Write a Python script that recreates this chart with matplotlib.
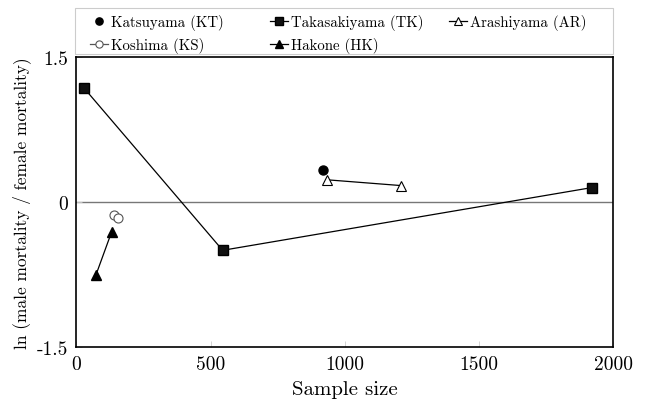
import matplotlib
matplotlib.use("Agg")
import matplotlib.pyplot as plt
from matplotlib.patches import Rectangle

# Data
kt_x = [919]
kt_y = [0.33]
tk_x = [28, 545, 1923]
tk_y = [1.18, -0.50, 0.15]
ar_x = [933, 1210]
ar_y = [0.23, 0.17]
ks_x = [141, 154]
ks_y = [-0.13, -0.17]
hk_x = [72, 131]
hk_y = [-0.76, -0.31]

x_ticks = [0, 500, 1000, 1500, 2000]
y_ticks = [-1.5, 0, 1.5]
y_ticklabels = ["-1.5", "0", "1.5"]

plt.rcParams['font.family'] = ['cmr10', 'DejaVu Serif']

W, H = 648, 406
fig = plt.figure(figsize=(6.48, 4.06), dpi=100)
ax = fig.add_axes([0.118, 0.143, 0.828, 0.714])

ax.axhline(0, color='#777777', lw=1.0, zorder=1)

l_kt, = ax.plot(kt_x, kt_y, ls='none', marker='o', ms=6.5, color='black', label='Katsuyama (KT)', zorder=3)
l_tk, = ax.plot(tk_x, tk_y, ls='-', lw=0.9, marker='s', ms=7.5, color='black', mfc='#111111', label='Takasakiyama (TK)', zorder=3)
l_ar, = ax.plot(ar_x, ar_y, ls='-', lw=0.9, marker='^', ms=6.5, color='black', mfc='white', mew=0.8, label='Arashiyama (AR)', zorder=3)
l_ks, = ax.plot(ks_x, ks_y, ls='-', lw=0.9, marker='o', ms=6.5, color='#555555', mfc='white', mew=0.8, label='Koshima (KS)', zorder=3)
l_hk, = ax.plot(hk_x, hk_y, ls='-', lw=0.9, marker='^', ms=6.5, color='black', label='Hakone (HK)', zorder=3)

ax.set_xlim(0, 2000)
ax.set_ylim(-1.5, 1.5)
ax.set_xticks(x_ticks)
ax.set_xticklabels([str(t) for t in x_ticks], fontsize=14)
ax.set_yticks(y_ticks)
ax.set_yticklabels(y_ticklabels, fontsize=14)
ax.tick_params(direction='in', length=4, width=0.6, color='#cccccc', pad=6)
for s in ax.spines.values():
    s.set_linewidth(1.2)

ax.set_xlabel('Sample size', fontsize=15, labelpad=5)
ax.set_ylabel('ln (male mortality / female mortality)', fontsize=12.5, labelpad=4)

# legend frame
fig.patches.append(Rectangle((75 / W, 1 - 55 / H), 538 / W, 46 / H, transform=fig.transFigure,
                             fill=False, ec='#cccccc', lw=0.8))

legkw = dict(loc='upper left', frameon=False, fontsize=10.7, handlelength=1.2,
             handletextpad=0.2, borderpad=0, labelspacing=0.5, markerscale=0.8,
             borderaxespad=0)
cols = [([l_kt, l_ks], 90), ([l_tk, l_hk], 270), ([l_ar], 449)]
for handles, xpx in cols:
    lg = fig.legend(handles, [hh.get_label() for hh in handles],
                    bbox_to_anchor=(xpx / W, 1 - 15 / H), **legkw)

fig.savefig('out.png', dpi=100)
